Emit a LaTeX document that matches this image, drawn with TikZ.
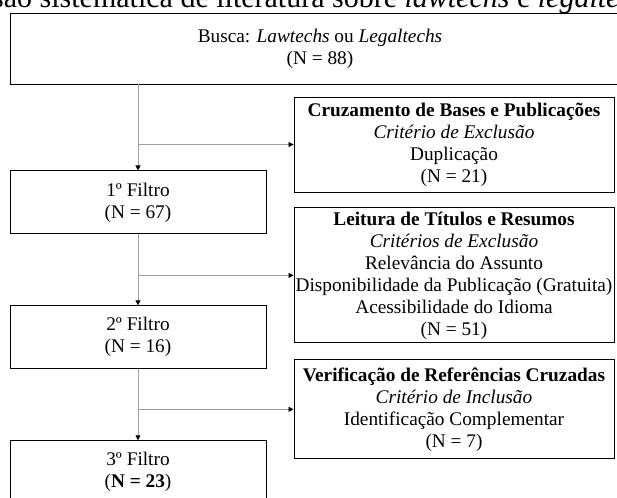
\documentclass[tikz,border=0pt]{standalone}
\usepackage{fontspec}
\setmainfont{Liberation Serif}
\usetikzlibrary{positioning, arrows.meta}
\definecolor{fcGray}{RGB}{160, 160, 160}
\newcommand{\bodyfont}{\fontsize{19.3}{22}\selectfont}
\newcommand{\headfont}{\fontsize{30}{34}\selectfont}
\tikzset{
    stage/.style={
        draw=black,
        line width=0.9pt,
        align=center,
        font=\bodyfont,
        inner sep=0pt,
        minimum width=256pt,
        minimum height=63pt
    },
    criterion/.style={
        stage,
        minimum width=320pt
    },
    flow/.style={
        -{Triangle[length=5pt, width=5pt, color=black]},
        draw=fcGray,
        line width=0.8pt
    }
}

\begin{document}
\begin{tikzpicture}[x=1pt, y=-1pt]
  \useasboundingbox (0,0) rectangle (617,497);
  \clip (0,0) rectangle (617,497);

  % Title
  \node[anchor=base west, font=\headfont, inner sep=0pt] (title) at (-8,7.5)
    {são sistemática de literatura sobre \textit{lawtechs} e \textit{legaltechs}};

  % Stages
  \node[stage, minimum width=620pt, minimum height=71pt] (busca) at (320,48.5)
    {Busca: \textit{Lawtechs} ou \textit{Legaltechs}\\(N = 88)};
  \node[stage, below=86pt of busca.south west, anchor=north west] (filtroA) {1º Filtro\\(N = 67)};
  \node[stage, below=71pt of filtroA] (filtroB) {2º Filtro\\(N = 16)};
  \node[stage, below=71pt of filtroB] (filtroC) {3º Filtro\\(\textbf{N = 23})};

  % Criteria
  \node[criterion, minimum height=95pt] (cruz) at (454,144.5)
    {\textbf{Cruzamento de Bases e Publicações}\\\textit{Critério de Exclusão}\\Duplicação\\(N = 21)};
  \node[criterion, minimum height=135pt, below=15pt of cruz] (leitura)
    {\textbf{Leitura de Títulos e Resumos}\\\textit{Critérios de Exclusão}\\Relevância do Assunto\\Disponibilidade da Publicação (Gratuita)\\Acessibilidade do Idioma\\(N = 51)};
  \node[criterion, minimum height=99pt, below=16pt of leitura] (verif)
    {\textbf{Verificação de Referências Cruzadas}\\\textit{Critério de Inclusão}\\Identificação Complementar\\(N = 7)};

  % Connections
  \coordinate (buscaout) at (busca.south -| filtroA.north);
  \draw[flow] (buscaout) -- (filtroA);
  \draw[flow] (filtroA) -- (filtroB);
  \draw[flow] (filtroB) -- (filtroC);

  \coordinate (jA) at (filtroA.north |- cruz.west);
  \coordinate (jB) at (filtroA.north |- leitura.west);
  \coordinate (jC) at (filtroA.north |- verif.west);
  \draw[flow] (jA) -- (cruz);
  \draw[flow] (jB) -- (leitura);
  \draw[flow] (jC) -- (verif);
\end{tikzpicture}
\end{document}
